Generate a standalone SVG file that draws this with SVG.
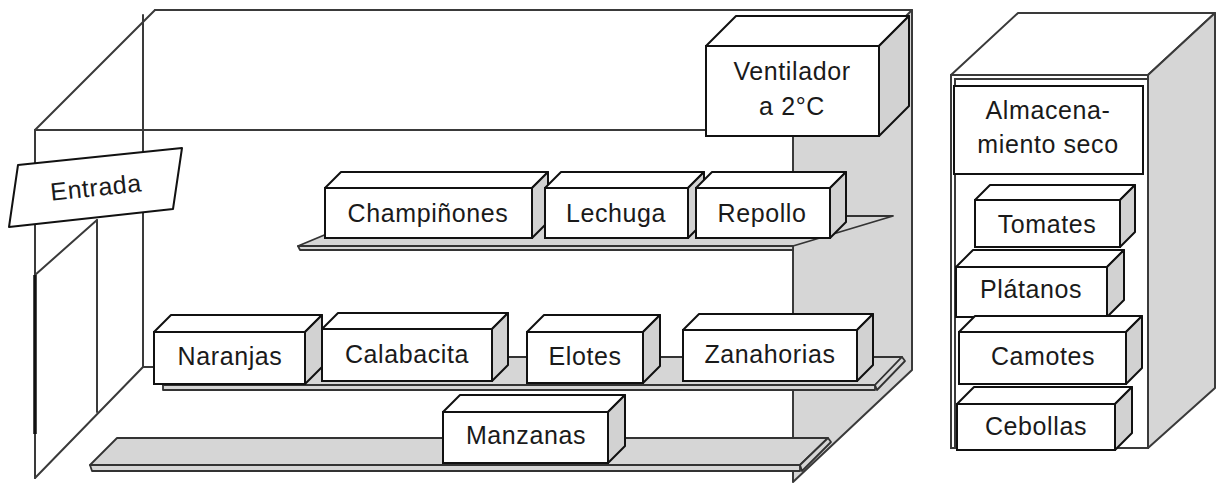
<svg xmlns="http://www.w3.org/2000/svg" width="1219" height="483" viewBox="0 0 1219 483">
<style>
.ln{fill:none;stroke:#3a3a3a;stroke-width:2;stroke-linecap:round}
.wall{fill:#d6d6d6;stroke:#3a3a3a;stroke-width:2;stroke-linejoin:round}
.shelf{fill:#d6d6d6;stroke:#333;stroke-width:1.8;stroke-linejoin:round}
.top{fill:#fff;stroke:#111;stroke-width:2;stroke-linejoin:round}
.side{fill:#d2d2d2;stroke:#111;stroke-width:2;stroke-linejoin:round}
.front{fill:#fff;stroke:#111;stroke-width:2}
.t{font-family:"Liberation Sans",Arial,sans-serif;font-size:25px;fill:#1a1a1a;text-anchor:middle;letter-spacing:0.6px}
</style>
<rect width="1219" height="483" fill="#fff"/>
<g id="room">
<polygon class="wall" points="793,130 912,10 912,370 793,482"/>
<line class="ln" x1="155" y1="10" x2="912" y2="10"/>
<line class="ln" x1="155" y1="10" x2="35" y2="130"/>
<line class="ln" x1="143" y1="15" x2="143" y2="367"/>
<line class="ln" x1="35" y1="130" x2="793" y2="130"/>
<line class="ln" x1="35" y1="130" x2="35" y2="478"/>
<line class="ln" x1="35" y1="478" x2="143" y2="367"/>
<line class="ln" x1="143" y1="367" x2="156" y2="367"/>
<line class="ln" x1="97" y1="220" x2="97" y2="412"/>
<line class="ln" x1="97" y1="220" x2="35" y2="275"/>
<line x1="35" y1="275" x2="35" y2="434" stroke="#111" stroke-width="3.5"/>
</g>
<g id="entrada">
<polygon points="18,165 182,148 173,209 9,227" fill="#fff" stroke="#111" stroke-width="2" stroke-linejoin="round"/>
<text class="t" x="96" y="196" font-size="24" transform="rotate(-6 96 188)">Entrada</text>
</g>
<g id="estantes">
<polygon class="shelf" points="298,246 370,216 893,216 793,246"/>
<polygon class="shelf" points="298,246 793,246 793,250 300,250"/>
<polygon class="shelf" points="163,357 902,357 875,385 163,385"/>
<polygon class="shelf" points="163,385 875,385 875,390 163,390"/>
<polygon class="shelf" points="875,385 902,357 905,361 877,390"/>
<polygon class="shelf" points="117,438 828,438 800,465 90,465"/>
<polygon class="shelf" points="90,465 800,465 800,471 92,471"/>
<polygon class="shelf" points="800,465 828,438 831,442 802,471"/>
</g>
<g id="ventilador">
<polygon class="top" points="706,46 736,16 909,16 879,46"/>
<polygon class="side" points="879,46 909,16 909,106 879,136"/>
<rect class="front" x="706" y="46" width="173" height="90"/>
<text class="t" x="792" y="80">Ventilador</text>
<text class="t" x="792" y="115">a 2°C</text>
</g>
<g id="champinones">
<polygon class="top" points="325,188 341,172 548,172 532,188"/>
<polygon class="side" points="532,188 548,172 548,222 532,238"/>
<rect class="front" x="325" y="188" width="207" height="50"/>
<text class="t" x="428" y="222">Champiñones</text>
</g>
<g id="lechuga">
<polygon class="top" points="545,188 561,172 704,172 688,188"/>
<polygon class="side" points="688,188 704,172 704,222 688,238"/>
<rect class="front" x="545" y="188" width="143" height="50"/>
<text class="t" x="616" y="222">Lechuga</text>
</g>
<g id="repollo">
<polygon class="top" points="696,188 712,172 846,172 830,188"/>
<polygon class="side" points="830,188 846,172 846,222 830,238"/>
<rect class="front" x="696" y="188" width="134" height="50"/>
<text class="t" x="762" y="222">Repollo</text>
</g>
<g id="naranjas">
<polygon class="top" points="154,332 171,315 322,315 305,332"/>
<polygon class="side" points="305,332 322,315 322,367 305,384"/>
<rect class="front" x="154" y="332" width="151" height="52"/>
<text class="t" x="230" y="365">Naranjas</text>
</g>
<g id="calabacita">
<polygon class="top" points="322,329 338,313 508,313 492,329"/>
<polygon class="side" points="492,329 508,313 508,365 492,381"/>
<rect class="front" x="322" y="329" width="170" height="52"/>
<text class="t" x="407" y="363">Calabacita</text>
</g>
<g id="elotes">
<polygon class="top" points="527,332 544,315 660,315 643,332"/>
<polygon class="side" points="643,332 660,315 660,366 643,383"/>
<rect class="front" x="527" y="332" width="116" height="51"/>
<text class="t" x="585" y="365">Elotes</text>
</g>
<g id="zanahorias">
<polygon class="top" points="683,330 699,314 873,314 857,330"/>
<polygon class="side" points="857,330 873,314 873,365 857,381"/>
<rect class="front" x="683" y="330" width="174" height="51"/>
<text class="t" x="770" y="363">Zanahorias</text>
</g>
<g id="manzanas">
<polygon class="top" points="443,412 460,395 625,395 608,412"/>
<polygon class="side" points="608,412 625,395 625,446 608,463"/>
<rect class="front" x="443" y="412" width="165" height="51"/>
<text class="t" x="526" y="444">Manzanas</text>
</g>
<g id="gabinete">
<polygon points="951,75 1018,13 1215,13 1148,75" fill="#fff" stroke="#3a3a3a" stroke-width="2" stroke-linejoin="round"/>
<polygon class="wall" points="1148,75 1215,13 1215,388 1148,448"/>
<rect x="951" y="75" width="197" height="373" fill="#fff" stroke="#3a3a3a" stroke-width="2"/>
<polyline class="ln" points="955,448 955,79 1148,79"/>
</g>
<g id="almacenamiento">
<rect class="front" x="954" y="86" width="189" height="88"/>
<text class="t" x="1048" y="119">Almacena-</text>
<text class="t" x="1048" y="153">miento seco</text>
</g>
<g id="tomates">
<polygon class="top" points="975,200 990,185 1135,185 1120,200"/>
<polygon class="side" points="1120,200 1135,185 1135,232 1120,247"/>
<rect class="front" x="975" y="200" width="145" height="47"/>
<text class="t" x="1047" y="233">Tomates</text>
</g>
<g id="platanos">
<polygon class="top" points="956,267 973,250 1124,250 1107,267"/>
<polygon class="side" points="1107,267 1124,250 1124,300 1107,317"/>
<rect class="front" x="956" y="267" width="151" height="50"/>
<text class="t" x="1031" y="298">Plátanos</text>
</g>
<g id="camotes">
<polygon class="top" points="959,332 975,316 1142,316 1126,332"/>
<polygon class="side" points="1126,332 1142,316 1142,368 1126,384"/>
<rect class="front" x="959" y="332" width="167" height="52"/>
<text class="t" x="1043" y="365">Camotes</text>
</g>
<g id="cebollas">
<polygon class="top" points="957,404 974,387 1132,387 1115,404"/>
<polygon class="side" points="1115,404 1132,387 1132,433 1115,450"/>
<rect class="front" x="957" y="404" width="158" height="46"/>
<text class="t" x="1036" y="435">Cebollas</text>
</g>
</svg>
